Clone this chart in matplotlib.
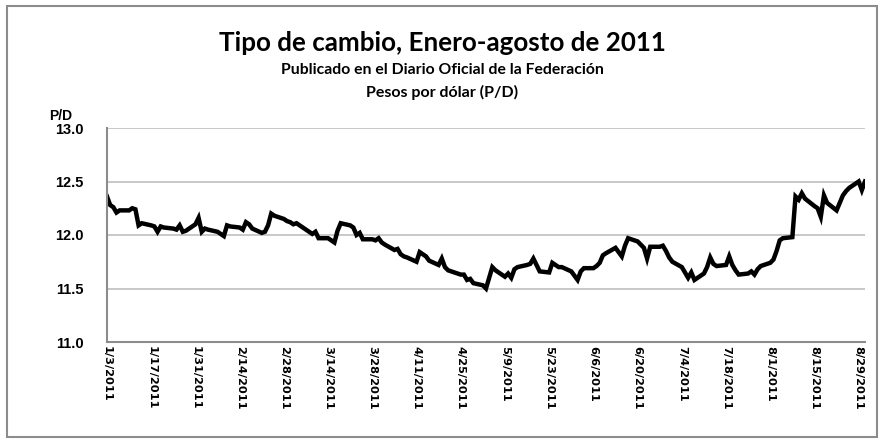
import matplotlib
matplotlib.use("Agg")
import matplotlib.pyplot as plt
import pandas as pd
from matplotlib.patches import Rectangle

plt.rcParams['font.family'] = ['Lato', 'DejaVu Sans']

# Daily (business-day) exchange rate, pesos per dollar
jan = [12.36, 12.28, 12.26, 12.21, 12.23,
       12.23, 12.25, 12.24, 12.09, 12.11,
       12.09, 12.08, 12.03, 12.08, 12.07,
       12.06, 12.05, 12.09, 12.03, 12.04,
       12.10]
feb = [12.16, 12.03, 12.06, 12.05,
       12.03, 12.01, 11.99, 12.09, 12.08,
       12.07, 12.05, 12.12, 12.10, 12.06,
       12.02, 12.03, 12.09, 12.20, 12.18,
       12.15]
mar = [12.13, 12.12, 12.10, 12.11,
       12.05, 12.03, 12.01, 12.03, 11.97,
       11.97, 11.95, 11.93, 12.04, 12.11,
       12.09, 12.07, 12.00, 12.02, 11.96,
       11.96, 11.95, 11.97, 11.93]
apr = [11.91,
       11.86, 11.87, 11.82, 11.80, 11.79,
       11.75, 11.84, 11.82, 11.80, 11.76,
       11.72, 11.78, 11.70, 11.67, 11.66,
       11.63, 11.63, 11.58, 11.59, 11.55]
may = [11.53, 11.50, 11.60, 11.70, 11.67,
       11.61, 11.64, 11.60, 11.68, 11.70,
       11.72, 11.73, 11.78, 11.72, 11.66,
       11.65, 11.74, 11.72, 11.70, 11.70,
       11.66, 11.62]
jun = [11.58, 11.66, 11.69,
       11.69, 11.71, 11.74, 11.81, 11.83,
       11.88, 11.84, 11.80, 11.90, 11.97,
       11.94, 11.91, 11.88, 11.78, 11.89,
       11.89, 11.90, 11.85, 11.79]
jul = [11.75,
       11.70, 11.65, 11.60, 11.65, 11.58,
       11.64, 11.70, 11.79, 11.73, 11.71,
       11.72, 11.80, 11.72, 11.67, 11.63,
       11.64, 11.66, 11.63, 11.68, 11.71]
aug = [11.74, 11.77, 11.85, 11.95, 11.97,
       11.98, 12.36, 12.33, 12.39, 12.34,
       12.27, 12.25, 12.17, 12.37, 12.30,
       12.23, 12.30, 12.37, 12.41, 12.44,
       12.50, 12.42, 12.50]

values = jan + feb + mar + apr + may + jun + jul + aug
dates = pd.bdate_range('2011-01-03', '2011-08-31')
assert len(dates) == len(values), (len(dates), len(values))

tick_dates = pd.date_range('2011-01-03', '2011-08-29', freq='14D')
tick_labels = [f"{d.month}/{d.day}/{d.year}" for d in tick_dates]
y_ticks = [11.0, 11.5, 12.0, 12.5, 13.0]

title = "Tipo de cambio, Enero-agosto de 2011"
subtitle1 = "Publicado en el Diario Oficial de la Federación"
subtitle2 = "Pesos por dólar (P/D)"
ylabel = "P/D"

W, H = 883, 443
fig = plt.figure(figsize=(W / 100, H / 100), dpi=100)
fig.patch.set_facecolor('white')

# outer chart border
fig.add_artist(Rectangle((7 / W, 6 / H), 870 / W, 431 / H, transform=fig.transFigure,
                         fill=False, edgecolor='#8c8c8c', linewidth=1.5))

ax = fig.add_axes([107 / W, 1 - 342 / H, (865 - 107) / W, (342 - 128) / H])
ax.plot(dates, values, color='black', linewidth=3.2, solid_joinstyle='miter')

ax.set_ylim(11.0, 13.0)
ax.set_yticks(y_ticks)
ax.set_yticklabels([f"{v:.1f}" for v in y_ticks], fontweight='bold', fontsize=10.5,
                   family=['Liberation Sans', 'DejaVu Sans'])
ax.set_xlim(pd.Timestamp('2011-01-03'), pd.Timestamp('2011-08-31'))
ax.set_xticks(tick_dates)
ax.set_xticklabels(tick_labels, rotation=-90, fontweight='bold', fontsize=8.2,
                   va='top', ha='center', family=['DejaVu Sans'])

ax.grid(axis='y', color='#bfbfbf', linewidth=1.2)
ax.set_axisbelow(True)
for s in ['top', 'right']:
    ax.spines[s].set_visible(False)
for s in ['left', 'bottom']:
    ax.spines[s].set_color('#8c8c8c')
    ax.spines[s].set_linewidth(1.5)
ax.tick_params(axis='both', length=0)
ax.tick_params(axis='y', pad=17)
ax.tick_params(axis='x', pad=3)

fig.text(442 / W, 1 - 43 / H, title, ha='center', va='center', fontsize=18.7, fontweight='bold')
fig.text(442 / W, 1 - 70 / H, subtitle1, ha='center', va='center', fontsize=11.3, fontweight='bold')
fig.text(442 / W, 1 - 92 / H, subtitle2, ha='center', va='center', fontsize=11.5, fontweight='bold')
fig.text(61 / W, 1 - 116 / H, ylabel, ha='center', va='center', fontsize=10, fontweight='bold',
         family=['Liberation Sans', 'DejaVu Sans'])

fig.savefig('out.png', dpi=100)
